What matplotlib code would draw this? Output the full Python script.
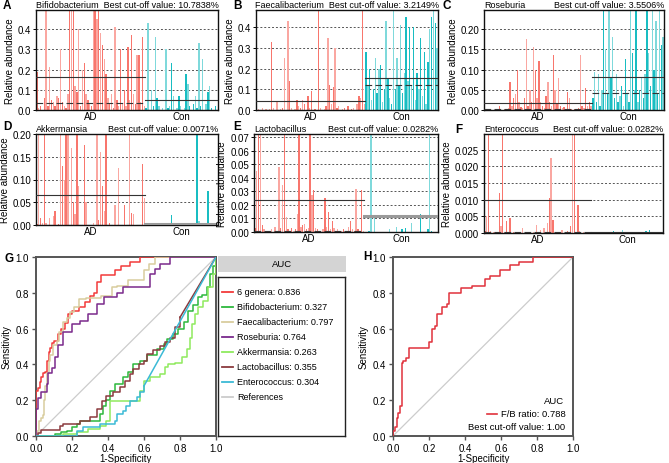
import matplotlib
matplotlib.use("Agg")
import matplotlib.pyplot as plt
from matplotlib.patches import Rectangle
import numpy as np

plt.rcParams['font.family'] = ['Liberation Sans', 'DejaVu Sans']
plt.rcParams['font.size'] = 7

FIG_W, FIG_H = 669, 464

# ---------------- bar panels A-F : relative abundance per sample ----------------
genera = ["Bifidobacterium", "Faecalibacterium", "Roseburia",
          "Akkermansia", "Lactobacillus", "Enterococcus"]
cutoffs = ["10.7838%", "3.2149%", "3.5506%", "0.0071%", "0.0282%", "0.0282%"]
groups = ["AD", "Con"]

bifido_ad = [0.19, 0.01, 0.02, 0.0, 0.06, 0.55, 0.02, 0.21, 0.05, 0.04,
             0.02, 0.07, 0.06, 0.30, 0.04, 0.02, 0.01, 0.08, 0.55, 0.55,
             0.55, 0.12, 0.09, 0.40, 0.02, 0.20, 0.23, 0.08, 0.05, 0.03,
             0.02, 0.55, 0.55, 0.45, 0.55, 0.38, 0.32, 0.25, 0.18, 0.06,
             0.03, 0.08, 0.01, 0.41, 0.05, 0.02, 0.30, 0.03, 0.10, 0.02,
             0.31, 0.05, 0.37, 0.08, 0.03, 0.27, 0.27, 0.04, 0.36, 0.02]
bifido_con = [0.01, 0.43, 0.0, 0.10, 0.02, 0.36, 0.06, 0.02, 0.0, 0.01,
              0.0, 0.30, 0.01, 0.02, 0.23, 0.07, 0.0, 0.01, 0.07, 0.02,
              0.0, 0.01, 0.18, 0.13, 0.02, 0.0, 0.03, 0.07, 0.01, 0.33,
              0.02, 0.25, 0.0, 0.03, 0.09, 0.12, 0.01, 0.0, 0.02, 0.0]

faecali_ad = [0.0, 0.005, 0.0, 0.01, 0.0, 0.003, 0.0, 0.005, 0.33, 0.01,
              0.0, 0.04, 0.0, 0.005, 0.01, 0.25, 0.0, 0.43, 0.14, 0.01,
              0.0, 0.005, 0.05, 0.02, 0.01, 0.05, 0.03, 0.0, 0.07, 0.01,
              0.09, 0.0, 0.005, 0.0, 0.55, 0.01, 0.0, 0.005, 0.02, 0.35,
              0.12, 0.03, 0.11, 0.30, 0.01, 0.02, 0.0, 0.005, 0.01, 0.0,
              0.02, 0.0, 0.005, 0.01, 0.0, 0.03, 0.07, 0.06, 0.55, 0.03]
faecali_con = [0.28, 0.12, 0.20, 0.05, 0.10, 0.25, 0.08, 0.20, 0.22, 0.04,
               0.10, 0.43, 0.15, 0.06, 0.03, 0.55, 0.10, 0.25, 0.12, 0.41,
               0.08, 0.18, 0.45, 0.14, 0.40, 0.12, 0.40, 0.05, 0.18, 0.10,
               0.35, 0.07, 0.28, 0.03, 0.23, 0.39, 0.45, 0.55, 0.42, 0.30]

roseb_ad = [0.0, 0.0, 0.002, 0.0, 0.0, 0.0, 0.003, 0.0, 0.01, 0.0,
            0.0, 0.002, 0.0, 0.005, 0.07, 0.01, 0.03, 0.04, 0.10, 0.02,
            0.008, 0.005, 0.03, 0.175, 0.01, 0.05, 0.02, 0.155, 0.10, 0.03,
            0.12, 0.02, 0.01, 0.005, 0.035, 0.07, 0.02, 0.01, 0.135, 0.05,
            0.015, 0.08, 0.01, 0.005, 0.008, 0.003, 0.045, 0.03, 0.002, 0.0,
            0.003, 0.0, 0.005, 0.135, 0.01, 0.005, 0.055, 0.01, 0.02, 0.01]
roseb_con = [0.03, 0.095, 0.02, 0.09, 0.01, 0.05, 0.30, 0.15, 0.04, 0.30,
             0.08, 0.18, 0.03, 0.09, 0.02, 0.035, 0.06, 0.01, 0.125, 0.04,
             0.02, 0.30, 0.14, 0.05, 0.30, 0.02, 0.05, 0.08, 0.03, 0.09,
             0.30, 0.14, 0.06, 0.30, 0.10, 0.22, 0.04, 0.30, 0.16, 0.18]

akk_ad = [0.003, 0.25, 0.015, 0.005, 0.25, 0.005, 0.0, 0.015, 0.0, 0.02,
          0.03, 0.0, 0.002, 0.25, 0.13, 0.10, 0.25, 0.25, 0.0, 0.17,
          0.05, 0.025, 0.25, 0.085, 0.0, 0.0, 0.175, 0.05, 0.0, 0.0,
          0.0, 0.005, 0.0, 0.25, 0.01, 0.16, 0.085, 0.03, 0.25, 0.0,
          0.005, 0.0, 0.0, 0.045, 0.0, 0.125, 0.0, 0.0, 0.045, 0.0,
          0.0, 0.25, 0.027, 0.025, 0.0, 0.0, 0.0, 0.0, 0.135, 0.06]
akk_con = [0.0, 0.0, 0.0, 0.0, 0.0, 0.0, 0.0, 0.0, 0.005, 0.0,
           0.0, 0.0, 0.0, 0.0, 0.022, 0.0, 0.0, 0.0, 0.0, 0.0,
           0.0, 0.0, 0.0, 0.0, 0.0, 0.0, 0.0, 0.005, 0.25, 0.008,
           0.0, 0.0, 0.0, 0.0, 0.075, 0.0, 0.0, 0.0, 0.0, 0.005]

lacto_ad = [0.003, 0.045, 0.08, 0.08, 0.005, 0.002, 0.0, 0.001, 0.0, 0.002,
            0.0, 0.004, 0.0, 0.048, 0.003, 0.035, 0.08, 0.011, 0.002, 0.0,
            0.003, 0.001, 0.002, 0.013, 0.08, 0.004, 0.005, 0.006, 0.002, 0.003,
            0.08, 0.027, 0.031, 0.003, 0.002, 0.001, 0.0, 0.002, 0.025, 0.004,
            0.015, 0.002, 0.008, 0.003, 0.001, 0.002, 0.0, 0.001, 0.002, 0.0,
            0.001, 0.004, 0.008, 0.002, 0.001, 0.032, 0.002, 0.0, 0.031, 0.001]
lacto_con = [0.0, 0.0, 0.001, 0.08, 0.0, 0.011, 0.0, 0.0, 0.0, 0.0,
             0.0, 0.0, 0.0, 0.002, 0.0, 0.0, 0.0, 0.004, 0.0, 0.0,
             0.002, 0.0, 0.003, 0.0, 0.0, 0.007, 0.0, 0.0, 0.0, 0.0,
             0.013, 0.0, 0.0, 0.0, 0.002, 0.08, 0.001, 0.0, 0.0, 0.0]

entero_ad = [0.0005, 0.005, 0.035, 0.0005, 0.0, 0.0003, 0.0, 0.0002, 0.012, 0.0022,
             0.035, 0.0003, 0.0035, 0.0, 0.0045, 0.0, 0.0002, 0.0, 0.0, 0.0001,
             0.0, 0.0015, 0.0, 0.0, 0.0001, 0.0, 0.0, 0.0002, 0.0, 0.0025,
             0.0003, 0.001, 0.0, 0.0015, 0.0002, 0.003, 0.0105, 0.0225, 0.004, 0.0,
             0.0, 0.0, 0.0, 0.0008, 0.0, 0.0, 0.0005, 0.0, 0.002, 0.035,
             0.035, 0.0, 0.0085, 0.0005, 0.0, 0.0003, 0.0, 0.0, 0.0, 0.0]
entero_con = [0.0, 0.0, 0.0, 0.0, 0.0003, 0.0, 0.0, 0.0, 0.0, 0.0,
              0.0, 0.0, 0.0005, 0.0, 0.0, 0.0, 0.0, 0.0009, 0.0, 0.0,
              0.0, 0.0, 0.0, 0.0, 0.0, 0.0, 0.0, 0.0, 0.0, 0.0,
              0.0006, 0.0, 0.001, 0.0, 0.0, 0.0, 0.0, 0.0, 0.0, 0.0]

ad_values = [bifido_ad, faecali_ad, roseb_ad, akk_ad, lacto_ad, entero_ad]
con_values = [bifido_con, faecali_con, roseb_con, akk_con, lacto_con, entero_con]

# group reference lines (solid = mean, dashed = median)
ad_mean = [0.165, 0.045, 0.018, 0.067, 0.024, 0.010]
ad_median = [0.035, 0.002, 0.002, 0.0005, 0.001, 0.0003]
con_mean = [0.05, 0.155, 0.082, 0.002, 0.012, 0.0002]
con_median = [0.002, 0.12, 0.043, 0.002, 0.012, 0.0]

y_top = [0.494, 0.484, 0.247, 0.20, 0.0724, 0.0297]
y_ticks = [[0, 0.1, 0.2, 0.3, 0.4], [0, 0.1, 0.2, 0.3, 0.4],
           [0, 0.05, 0.10, 0.15, 0.20], [0, 0.05, 0.10, 0.15, 0.20],
           [0, 0.01, 0.02, 0.03, 0.04, 0.05, 0.06, 0.07],
           [0, 0.005, 0.010, 0.015, 0.020, 0.025]]
y_fmt = ["%.1f", "%.1f", "%.2f", "%.2f", "%.2f", "%.3f"]

# ---------------- panel G : ROC curves of single genera ----------------
roc_names = ["6 genera", "Bifidobacterium", "Faecalibacterium", "Roseburia",
             "Akkermansia", "Lactobacillus", "Enterococcus"]
roc_auc = [0.836, 0.327, 0.797, 0.764, 0.263, 0.355, 0.304]
roc_colors = ["#F23A3A", "#2DB83D", "#D9CD9E", "#7A2A8C",
              "#8FEA5E", "#8B3A3E", "#3BBAD6"]

six_fpr = [0, 0, 0.013, 0.02, 0.03, 0.04, 0.05, 0.06, 0.07, 0.08, 0.09, 0.1, 0.12, 0.14,
           0.16, 0.18, 0.2, 0.24, 0.27, 0.3, 0.32, 0.34, 0.36, 0.44, 0.47, 0.52, 0.58, 1.0]
six_tpr = [0, 0.25, 0.27, 0.3, 0.33, 0.35, 0.36, 0.42, 0.47, 0.49, 0.52, 0.53, 0.57, 0.6,
           0.63, 0.68, 0.7, 0.72, 0.75, 0.78, 0.8, 0.86, 0.9, 0.93, 0.95, 0.97, 1.0, 1.0]
bif_fpr = [0, 0.105, 0.14, 0.17, 0.2, 0.226, 0.244, 0.355, 0.374, 0.39, 0.41, 0.44, 0.485,
           0.51, 0.54, 0.58, 0.615, 0.67, 0.71, 0.726, 0.763, 0.79, 0.82, 0.846, 0.874,
           0.9, 0.92, 0.948, 0.967, 0.985, 1.0]
bif_tpr = [0, 0.01, 0.02, 0.03, 0.05, 0.067, 0.086, 0.123, 0.17, 0.2, 0.25, 0.29, 0.33,
           0.355, 0.40, 0.42, 0.45, 0.486, 0.514, 0.54, 0.57, 0.6, 0.635, 0.70, 0.73,
           0.775, 0.79, 0.83, 0.905, 0.95, 1.0]
fae_fpr = [0, 0.005, 0.018, 0.03, 0.037, 0.045, 0.05, 0.06, 0.07, 0.08, 0.096, 0.115,
           0.13, 0.15, 0.17, 0.19, 0.21, 0.24, 0.28, 0.33, 0.36, 0.42, 0.45, 0.51, 0.6,
           0.63, 0.66, 1.0]
fae_tpr = [0, 0.03, 0.085, 0.1, 0.12, 0.2, 0.28, 0.35, 0.42, 0.45, 0.51, 0.53, 0.58,
           0.635, 0.66, 0.69, 0.72, 0.765, 0.77, 0.77, 0.78, 0.83, 0.84, 0.87, 0.93,
           0.96, 1.0, 1.0]
ros_fpr = [0, 0, 0.013, 0.03, 0.06, 0.068, 0.087, 0.105, 0.124, 0.15, 0.2, 0.244, 0.29,
           0.337, 0.38, 0.45, 0.485, 0.633, 0.66, 0.69, 0.744, 1.0]
ros_tpr = [0, 0.15, 0.21, 0.245, 0.29, 0.35, 0.38, 0.44, 0.51, 0.58, 0.625, 0.645, 0.68,
           0.74, 0.775, 0.80, 0.834, 0.905, 0.933, 0.96, 1.0, 1.0]
akk_fpr = [0, 0.105, 0.15, 0.226, 0.29, 0.355, 0.39, 0.41, 0.58, 0.6, 0.633, 0.69, 0.717,
           0.735, 0.77, 0.81, 0.837, 0.855, 0.865, 0.883, 0.9, 0.93, 0.957, 0.985, 1.0]
akk_tpr = [0, 0.0, 0.01, 0.02, 0.04, 0.058, 0.086, 0.197, 0.25, 0.31, 0.33, 0.346, 0.384,
           0.4, 0.41, 0.44, 0.486, 0.55, 0.626, 0.68, 0.72, 0.756, 0.83, 0.905, 1.0]
lac_fpr = [0, 0.013, 0.03, 0.133, 0.15, 0.244, 0.3, 0.337, 0.365, 0.39, 0.43, 0.467,
           0.494, 0.52, 0.54, 0.57, 0.6, 0.615, 0.652, 0.69, 0.717, 0.745, 0.77, 0.8]
lac_tpr = [0, 0.015, 0.034, 0.058, 0.067, 0.086, 0.104, 0.15, 0.197, 0.225, 0.244, 0.272,
           0.31, 0.346, 0.374, 0.40, 0.417, 0.458, 0.48, 0.505, 0.523, 0.55, 0.607, 0.663]
ent_fpr = [0, 0.2, 0.226, 0.263, 0.355, 0.44, 0.448, 0.485, 0.5, 0.52, 0.56, 0.578, 0.6]
ent_tpr = [0, 0, 0.03, 0.048, 0.067, 0.086, 0.123, 0.14, 0.17, 0.197, 0.216, 0.244, 0.28]

roc_fpr = [six_fpr, bif_fpr, fae_fpr, ros_fpr, akk_fpr, lac_fpr, ent_fpr]
roc_tpr = [six_tpr, bif_tpr, fae_tpr, ros_tpr, akk_tpr, lac_tpr, ent_tpr]
# curves whose last part is a straight segment to (1, 1) (tied zero values)
roc_tail = [False, False, False, False, False, True, True]

# ---------------- panel H : F/B ratio ROC ----------------
fb_fpr = [0, 0, 0.01, 0.02, 0.03, 0.04, 0.048, 0.057, 0.072, 0.09, 0.202, 0.215, 0.233,
          0.243, 0.27, 0.3, 0.313, 0.38, 0.437, 0.511, 0.539, 0.594, 0.65, 0.7, 0.78, 1.0]
fb_tpr = [0, 0.03, 0.05, 0.1, 0.13, 0.17, 0.41, 0.417, 0.434, 0.49, 0.523, 0.6, 0.616,
          0.68, 0.72, 0.74, 0.80, 0.825, 0.84, 0.877, 0.895, 0.93, 0.955, 0.97, 1.0, 1.0]
fb_auc = 0.788
fb_cutoff = "1.00"


# ---------------- layout helpers (pixel boxes) ----------------
def rect(x0, y0, x1, y1):
    return [x0 / FIG_W, 1 - y1 / FIG_H, (x1 - x0) / FIG_W, (y1 - y0) / FIG_H]


def fx(px):
    return px / FIG_W


def fy(py):
    return 1 - py / FIG_H


fig = plt.figure(figsize=(FIG_W / 100, FIG_H / 100), dpi=100)

bar_boxes = [(36, 11, 218, 111), (256, 11, 438, 111), (484, 11, 664, 111),
             (36, 135, 218, 226), (254, 135, 438, 233), (484, 135, 663, 234)]
ad_shades = ["#F8766D", "#FAA7A1"]
con_shades = ["#19BDC2", "#7FD9DB"]
TITLE_FS = 6.5

for k in range(6):
    ax = fig.add_axes(rect(*bar_boxes[k]))
    ad = ad_values[k]
    con = con_values[k]
    n_ad, n_con = len(ad), len(con)
    x_ad = np.arange(n_ad)
    x_con = np.arange(n_ad, n_ad + n_con)
    ax.bar(x_ad, ad, width=0.75, color=[ad_shades[i % 2] for i in range(n_ad)],
           linewidth=0, zorder=2)
    ax.bar(x_con, con, width=0.75, color=[con_shades[i % 2] for i in range(n_con)],
           linewidth=0, zorder=2)
    ax.set_xlim(-0.5, n_ad + n_con - 0.5)
    ax.set_ylim(0, y_top[k])

    # group lines
    ad_span = (-0.5, n_ad - 0.5)
    con_span = (n_ad - 0.5, n_ad + n_con - 0.5)
    ax.plot(ad_span, [ad_mean[k]] * 2, color="#333333", lw=0.8, zorder=3)
    ax.plot(ad_span, [ad_median[k]] * 2, color="#333333", lw=0.8,
            dashes=(6, 3), zorder=3)
    if abs(con_mean[k] - con_median[k]) < 1e-9:
        ax.plot(con_span, [con_mean[k]] * 2, color="#9A9A9A", lw=2.2, zorder=3)
    else:
        ax.plot(con_span, [con_mean[k]] * 2, color="#333333", lw=0.8, zorder=3)
        ax.plot(con_span, [con_median[k]] * 2, color="#333333", lw=0.8,
                dashes=(6, 3), zorder=3)

    ax.set_yticks(y_ticks[k])
    ax.set_yticklabels([y_fmt[k] % t for t in y_ticks[k]])
    ax.yaxis.grid(True, linestyle=(0, (2, 2)), color="#555555", lw=0.7, zorder=1)
    ax.set_axisbelow(True)
    ax.set_xticks([(n_ad - 1) / 2, n_ad + (n_con - 1) / 2])
    ax.set_xticklabels(groups)
    ax.tick_params(axis="x", length=0, pad=1, labelsize=7)
    ax.tick_params(axis="y", length=2, pad=1.5, labelsize=7, width=0.7)
    for s in ax.spines.values():
        s.set_linewidth(1.0)
        s.set_color("#111111")
    ax.set_ylabel("Relative abundance", fontsize=7, labelpad=2)

    cut_txt = "Best cut-off value: " + cutoffs[k]
    if k < 2:
        ax.text(0.5, 1.01, genera[k] + "  " + cut_txt, transform=ax.transAxes,
                ha="center", va="bottom", fontsize=TITLE_FS)
    else:
        ax.text(0.0, 1.01, genera[k], transform=ax.transAxes,
                ha="left", va="bottom", fontsize=TITLE_FS)
        ax.text(1.0, 1.01, cut_txt, transform=ax.transAxes,
                ha="right", va="bottom", fontsize=TITLE_FS)


def style_roc(ax):
    ticks01 = [0, 0.2, 0.4, 0.6, 0.8, 1.0]
    ax.set_xlim(0, 1)
    ax.set_ylim(0, 1)
    ax.set_xticks(ticks01)
    ax.set_yticks(ticks01)
    ax.set_xticklabels(["%.1f" % t for t in ticks01])
    ax.set_yticklabels(["%.1f" % t for t in ticks01])
    ax.tick_params(length=3, width=1, pad=2, labelsize=7, color="#555555")
    for s in ax.spines.values():
        s.set_linewidth(1.4)
        s.set_color("#555555")
    ax.set_xlabel("1-Specificity", fontsize=7, labelpad=0)
    ax.set_ylabel("Sensitivity", fontsize=7, labelpad=3)


# ---------------- G ----------------
axg = fig.add_axes(rect(36, 258, 216, 437))
axg.plot([0, 1], [0, 1], color="#CCCCCC", lw=0.9, zorder=1)
for i in range(len(roc_names)):
    axg.plot(roc_fpr[i], roc_tpr[i], drawstyle="steps-post",
             color=roc_colors[i], lw=1.1, zorder=3)
    if roc_tail[i]:
        axg.plot([roc_fpr[i][-1], 1], [roc_tpr[i][-1], 1],
                 color=roc_colors[i], lw=1.1, zorder=3)
style_roc(axg)

# legend of G
fig.patches.append(Rectangle((fx(218), fy(273)), fx(346) - fx(218), fy(257) - fy(273),
                             transform=fig.transFigure, facecolor="#D4D4D4",
                             edgecolor="none"))
fig.text(fx(282), fy(265), "AUC", ha="center", va="center", fontsize=6.8)
lax = fig.add_axes(rect(218, 278, 345, 437))
lax.set_xlim(218, 345)
lax.set_ylim(437, 278)
lax.set_xticks([])
lax.set_yticks([])
for s in lax.spines.values():
    s.set_linewidth(1.0)
    s.set_color("#222222")
leg_labels = ["%s: %.3f" % (roc_names[i], roc_auc[i]) for i in range(len(roc_names))]
leg_labels.append("References")
leg_colors = roc_colors + ["#CCCCCC"]
for i in range(len(leg_labels)):
    yy = 293 + 15 * i
    lax.plot([222, 233], [yy, yy], color=leg_colors[i], lw=1.3)
    lax.text(237, yy, leg_labels[i], ha="left", va="center", fontsize=6.5)

# ---------------- H ----------------
axh = fig.add_axes(rect(393, 258, 573, 437))
axh.plot([0, 1], [0, 1], color="#CCCCCC", lw=0.9, zorder=1)
axh.plot(fb_fpr, fb_tpr, drawstyle="steps-post", color="#E0323C", lw=1.1, zorder=3)
style_roc(axh)
fig.text(fx(564), fy(402), "AUC", ha="right", va="center", fontsize=6.8)
fig.lines.append(plt.Line2D([fx(487), fx(497)], [fy(415), fy(415)],
                            transform=fig.transFigure, color="#E0323C", lw=1.2))
fig.text(fx(501), fy(415), "F/B ratio: %.3f" % fb_auc, ha="left", va="center",
         fontsize=6.8)
fig.text(fx(565), fy(428), "Best cut-off value: " + fb_cutoff, ha="right",
         va="center", fontsize=6.8)

# ---------------- panel letters ----------------
letters = ["A", "B", "C", "D", "E", "F", "G", "H"]
letter_pos = [(7, 6), (238, 6), (447, 6), (7, 127), (237, 127), (459, 130),
              (9, 259), (367, 257)]
for lt, (px, py) in zip(letters, letter_pos):
    fig.text(fx(px), fy(py), lt, ha="center", va="center", fontsize=8.5,
             fontweight="bold")

fig.savefig("out.png", dpi=100)
